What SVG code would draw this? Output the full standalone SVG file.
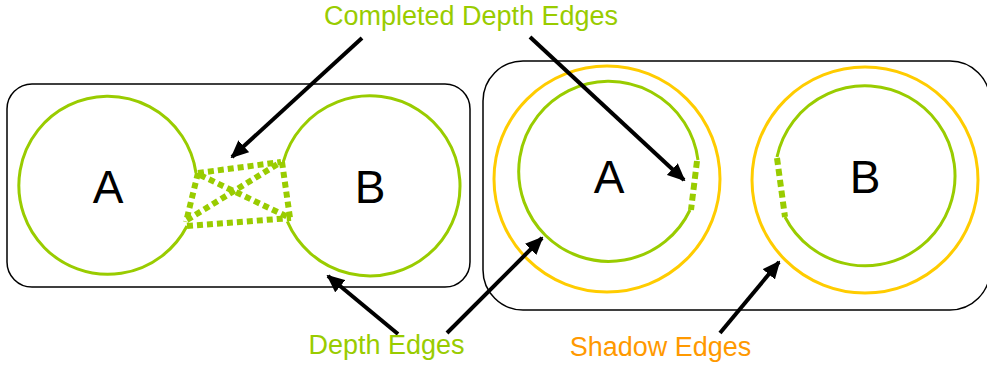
<svg xmlns="http://www.w3.org/2000/svg" width="987" height="366" viewBox="0 0 987 366">
<style>
.box{fill:none;stroke:#000;stroke-width:1.5}
.g{fill:none;stroke:#99cc00;stroke-width:3}
.y{fill:none;stroke:#ffcc00;stroke-width:3}
.gd{fill:none;stroke:#99cc00;stroke-width:6;stroke-dasharray:6 4}
.gd2{fill:none;stroke:#99cc00;stroke-width:6;stroke-dasharray:7 4}
.lbl{font-family:"Liberation Sans",Arial,sans-serif;font-size:46px;fill:#000;text-anchor:middle}
.cap{font-family:"Liberation Sans",Arial,sans-serif;font-size:27px;text-anchor:middle}
.arr{fill:none;stroke:#000;stroke-width:4;marker-end:url(#ah)}
</style>
<defs>
<marker id="ah" markerUnits="userSpaceOnUse" markerWidth="18" markerHeight="16" viewBox="0 0 18 16" refX="16" refY="8" orient="auto">
<path d="M0,0 L18,8 L0,16 z" fill="#000"/>
</marker>
</defs>
<g id="leftScene">
<rect class="box" x="7" y="84" width="463" height="203" rx="25"/>
<g id="leftA">
<path class="g" d="M187,226 A89 89 0 1 1 196,173"/>
<text class="lbl" x="108" y="203">A</text>
</g>
<g id="leftB">
<path class="g" d="M283.2,162.1 A90 90 0 1 1 287.3,221.4"/>
<text class="lbl" x="370" y="203">B</text>
</g>
<g id="completedEdges">
<path class="gd" d="M198,173 L281,162"/>
<path class="gd" d="M187,226 L291,218"/>
<path class="gd" d="M198,173 L186,222"/>
<path class="gd" d="M282,162 L290,218"/>
<path class="gd" d="M200,175 L290,218"/>
<path class="gd" d="M187,220 L281,162"/>
</g>
</g>
<g id="rightScene">
<rect class="box" x="483" y="61" width="507" height="249" rx="40"/>
<g id="rightA">
<circle class="y" cx="607" cy="179" r="113"/>
<path class="g" d="M690,210 A90 90 0 1 1 698,160"/>
<path class="gd2" d="M697,161 L691,210"/>
<text class="lbl" x="609" y="193">A</text>
</g>
<g id="rightB">
<circle class="y" cx="865" cy="180" r="113"/>
<path class="g" d="M777,157 A90 90 0 1 1 785,217"/>
<path class="gd2" d="M777,158 L785,217"/>
<text class="lbl" x="865" y="193">B</text>
</g>
</g>
<g id="connectors">
<path class="arr" d="M362,38 L232,157"/>
<path class="arr" d="M530,37 L684,180"/>
<path class="arr" d="M398,334 L328,276"/>
<path class="arr" d="M447,333 L542,238"/>
<path class="arr" d="M720,333 L779,262"/>
</g>
<g id="captions">
<text class="cap" x="471" y="25" fill="#99cc00">Completed Depth Edges</text>
<text class="cap" x="386.5" y="354" fill="#99cc00">Depth Edges</text>
<text class="cap" x="660.5" y="356" fill="#ff9900">Shadow Edges</text>
</g>
</svg>
